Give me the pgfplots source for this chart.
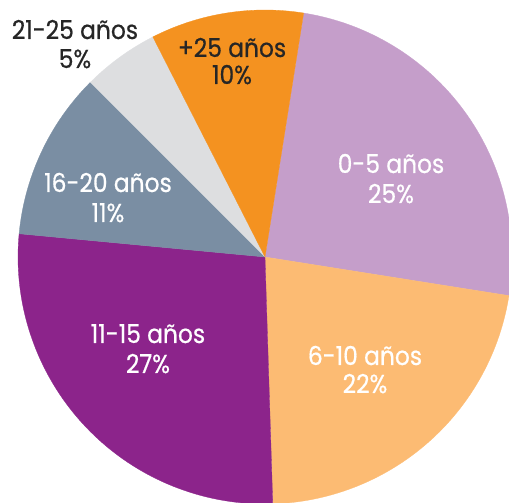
\documentclass[border=0pt]{standalone}
\usepackage{pgfplots}
\pgfplotsset{compat=1.18}
\usepackage{fontspec}
\setmainfont{Poppins}[FakeBold=0.6, FakeStretch=0.9]
\definecolor{cA}{HTML}{C59ECA}
\definecolor{cB}{HTML}{FCBB73}
\definecolor{cC}{HTML}{8C248B}
\definecolor{cD}{HTML}{7A8EA3}
\definecolor{cE}{HTML}{DDDEE0}
\definecolor{cF}{HTML}{F49220}
\definecolor{txt}{HTML}{262626}
% percentages: 25, 22, 27, 11, 5, 10 ; clockwise from 81 degrees
\newcommand{\lab}[6]{%
  \node[anchor=base, text=#6, font=\fontsize{26}{29}\selectfont] at (axis cs:#1,#2) {#4};
  \node[anchor=base, text=#6, font=\fontsize{26}{29}\selectfont] at (axis cs:#1,#3) {#5};
}
\begin{document}
\begin{tikzpicture}
\useasboundingbox (0,0) rectangle (509pt,503pt);
\begin{axis}[at={(0,0)}, anchor=south west, scale only axis,
  x=1pt, y=1pt, xmin=-265, xmax=244, ymin=-246, ymax=257,
  hide axis]
% 0-5 años 25%
\addplot[data cs=polar, fill=cA, draw=cA, line width=0.3pt, domain=-9:81, samples=80] {247} -- (axis cs:0,0) -- cycle;
% 6-10 años 22%
\addplot[data cs=polar, fill=cB, draw=cB, line width=0.3pt, domain=-88.2:-9, samples=80] {247} -- (axis cs:0,0) -- cycle;
% 11-15 años 27%
\addplot[data cs=polar, fill=cC, draw=cC, line width=0.3pt, domain=-185.4:-88.2, samples=80] {247} -- (axis cs:0,0) -- cycle;
% 16-20 años 11%
\addplot[data cs=polar, fill=cD, draw=cD, line width=0.3pt, domain=-225:-185.4, samples=50] {247} -- (axis cs:0,0) -- cycle;
% 21-25 años 5%
\addplot[data cs=polar, fill=cE, draw=cE, line width=0.3pt, domain=-243:-225, samples=30] {247} -- (axis cs:0,0) -- cycle;
% +25 años 10%
\addplot[data cs=polar, fill=cF, draw=cF, line width=0.3pt, domain=-279:-243, samples=40] {247} -- (axis cs:0,0) -- cycle;
\lab{126}{84}{54}{0-5 años}{25\%}{white}
\lab{100}{-108}{-136}{6-10 años}{22\%}{white}
\lab{-117}{-86}{-116}{11-15 años}{27\%}{white}
\lab{-157}{65}{35}{16-20 años}{11\%}{white}
\lab{-190}{218}{189}{21-25 años}{5\%}{txt}
\lab{-33}{200}{173}{+25 años}{10\%}{txt}
\end{axis}
\end{tikzpicture}
\end{document}
